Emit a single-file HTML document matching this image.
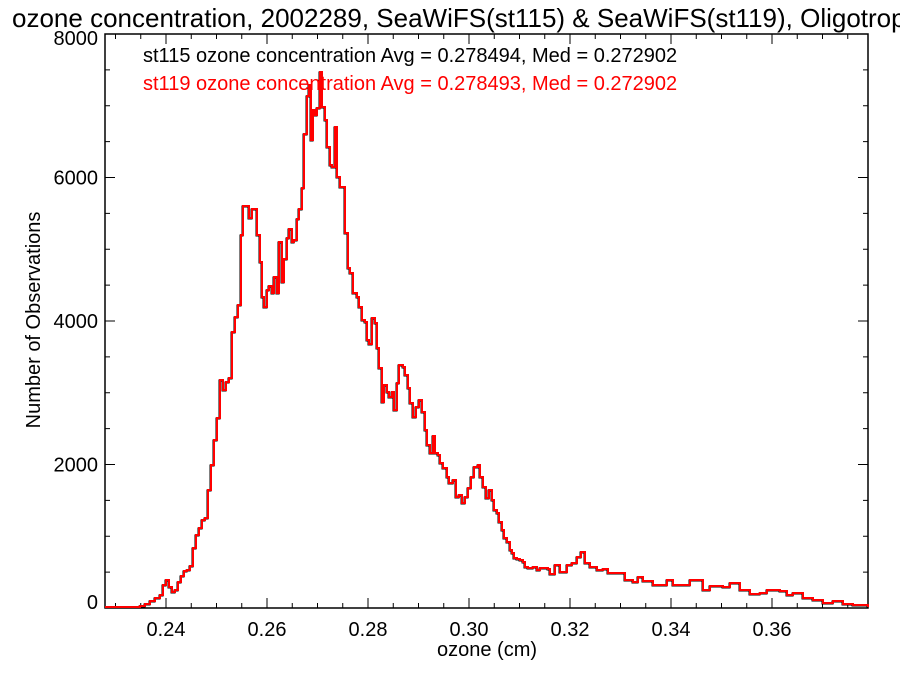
<!DOCTYPE html>
<html><head><style>
body{margin:0;background:#fff;width:900px;height:675px;overflow:hidden}
text{font-family:"Liberation Sans",sans-serif}
</style></head><body>
<svg width="900" height="675" xmlns="http://www.w3.org/2000/svg">
<text x="12" y="27" font-size="26">ozone concentration, 2002289, SeaWiFS(st115) &amp; SeaWiFS(st119), Oligotrop</text>
<g id="ax"></g>
<path id="pb" fill="none" stroke="#000" stroke-width="2" transform="translate(-0.5,0.5)"/>
<path id="pr" fill="none" stroke="#f00" stroke-width="2"/>
<text x="143" y="62" font-size="20">st115 ozone concentration Avg = 0.278494, Med = 0.272902</text>
<text x="143" y="90" font-size="20" fill="#f00">st119 ozone concentration Avg = 0.278493, Med = 0.272902</text>
<text x="487" y="656" font-size="20" text-anchor="middle">ozone (cm)</text>
<text transform="translate(40,320) rotate(-90)" font-size="20" text-anchor="middle">Number of Observations</text>
</svg>
<script>
var pts=[[105,607],[140,606],[145,604],[150,601],[155,598],[160,595],[163,585],[166,580],[169,587],[172,592],[175,590],[178,582],[181,576],[184,571],[187,570],[190,566],[193,548],[196,535],[199,528],[202,520],[205,518],[208,490],[211,465],[214,440],[217,418],[220,380],[223,390],[226,382],[229,378],[232,332],[235,317],[238,305],[241,235],[243,206],[249,218],[252,209],[255,209],[257,235],[260,262],[262,297],[264,307],[267,290],[269,286],[272,293],[274,277],[277,293],[279,242],[282,282],[284,259],[287,238],[289,229],[292,242],[294,240],[297,219],[299,209],[302,188],[304,134],[307,96],[309,85],[311,140],[313,110],[315,115],[317,108],[320,72],[322,107],[325,120],[327,147],[330,165],[332,167],[335,127],[337,177],[340,187],[345,233],[348,268],[350,273],[353,293],[357,297],[359,307],[362,320],[365,322],[367,340],[369,344],[372,318],[375,323],[377,348],[379,368],[382,402],[384,385],[387,392],[389,397],[392,392],[394,410],[397,383],[399,365],[403,367],[405,375],[408,388],[410,403],[413,417],[416,407],[419,400],[422,412],[425,430],[427,445],[430,453],[433,436],[435,453],[438,455],[440,463],[443,468],[447,477],[449,483],[453,480],[456,497],[459,495],[462,503],[465,497],[468,488],[471,477],[474,467],[478,465],[480,477],[483,487],[486,498],[489,490],[492,500],[494,510],[497,513],[499,522],[502,530],[504,538],[507,542],[510,550],[512,553],[514,558],[517,559],[520,560],[523,562],[525,567],[528,568],[533,567],[537,570],[540,568],[548,569],[550,574],[555,565],[560,572],[567,565],[572,563],[577,557],[581,552],[585,563],[590,567],[597,570],[603,569],[608,573],[620,573],[625,580],[633,582],[638,577],[643,581],[653,585],[667,580],[673,585],[690,580],[703,590],[710,586],[723,587],[730,583],[740,590],[750,594],[760,593],[767,590],[780,591],[787,595],[793,593],[803,598],[813,600],[823,603],[833,601],[843,604],[853,605],[868,607]];
var d="M"+pts[0][0]+","+pts[0][1];
for(var i=1;i<pts.length;i++){d+=" H"+pts[i][0]+" V"+pts[i][1];}
document.getElementById('pr').setAttribute('d',d);
document.getElementById('pb').setAttribute('d',d);
var L=105,R=868,T=34,B=608,s='';
s+='<rect x="'+L+'" y="'+T+'" width="'+(R-L)+'" height="'+(B-T)+'" fill="none" stroke="#000" stroke-width="1.5"/>';
function X(v){return 166+(v-0.24)*5050;}
for(var k=0;k<=30;k++){var v=0.23+k*0.005;var x=X(v);if(x<L||x>R)continue;var r=Math.round(v*1000);var maj=(r%20==0);var len=maj?10:5;
s+='<line x1="'+x+'" y1="'+B+'" x2="'+x+'" y2="'+(B-len)+'" stroke="#000"/>';
s+='<line x1="'+x+'" y1="'+T+'" x2="'+x+'" y2="'+(T+len)+'" stroke="#000"/>';
if(maj)s+='<text x="'+x+'" y="636" font-size="20" text-anchor="middle">'+v.toFixed(2)+'</text>';}
for(var v=0;v<=8000;v+=500){var y=B-v*0.07175;var maj=v%2000==0;var len=maj?10:5;
s+='<line x1="'+L+'" y1="'+y+'" x2="'+(L+len)+'" y2="'+y+'" stroke="#000"/>';
s+='<line x1="'+R+'" y1="'+y+'" x2="'+(R-len)+'" y2="'+y+'" stroke="#000"/>';
if(maj){var ty=v==0?609:(v==8000?45:y+7);s+='<text x="98" y="'+ty+'" font-size="20" text-anchor="end">'+v+'</text>';}}
document.getElementById('ax').innerHTML=s;
</script>
</body></html>
